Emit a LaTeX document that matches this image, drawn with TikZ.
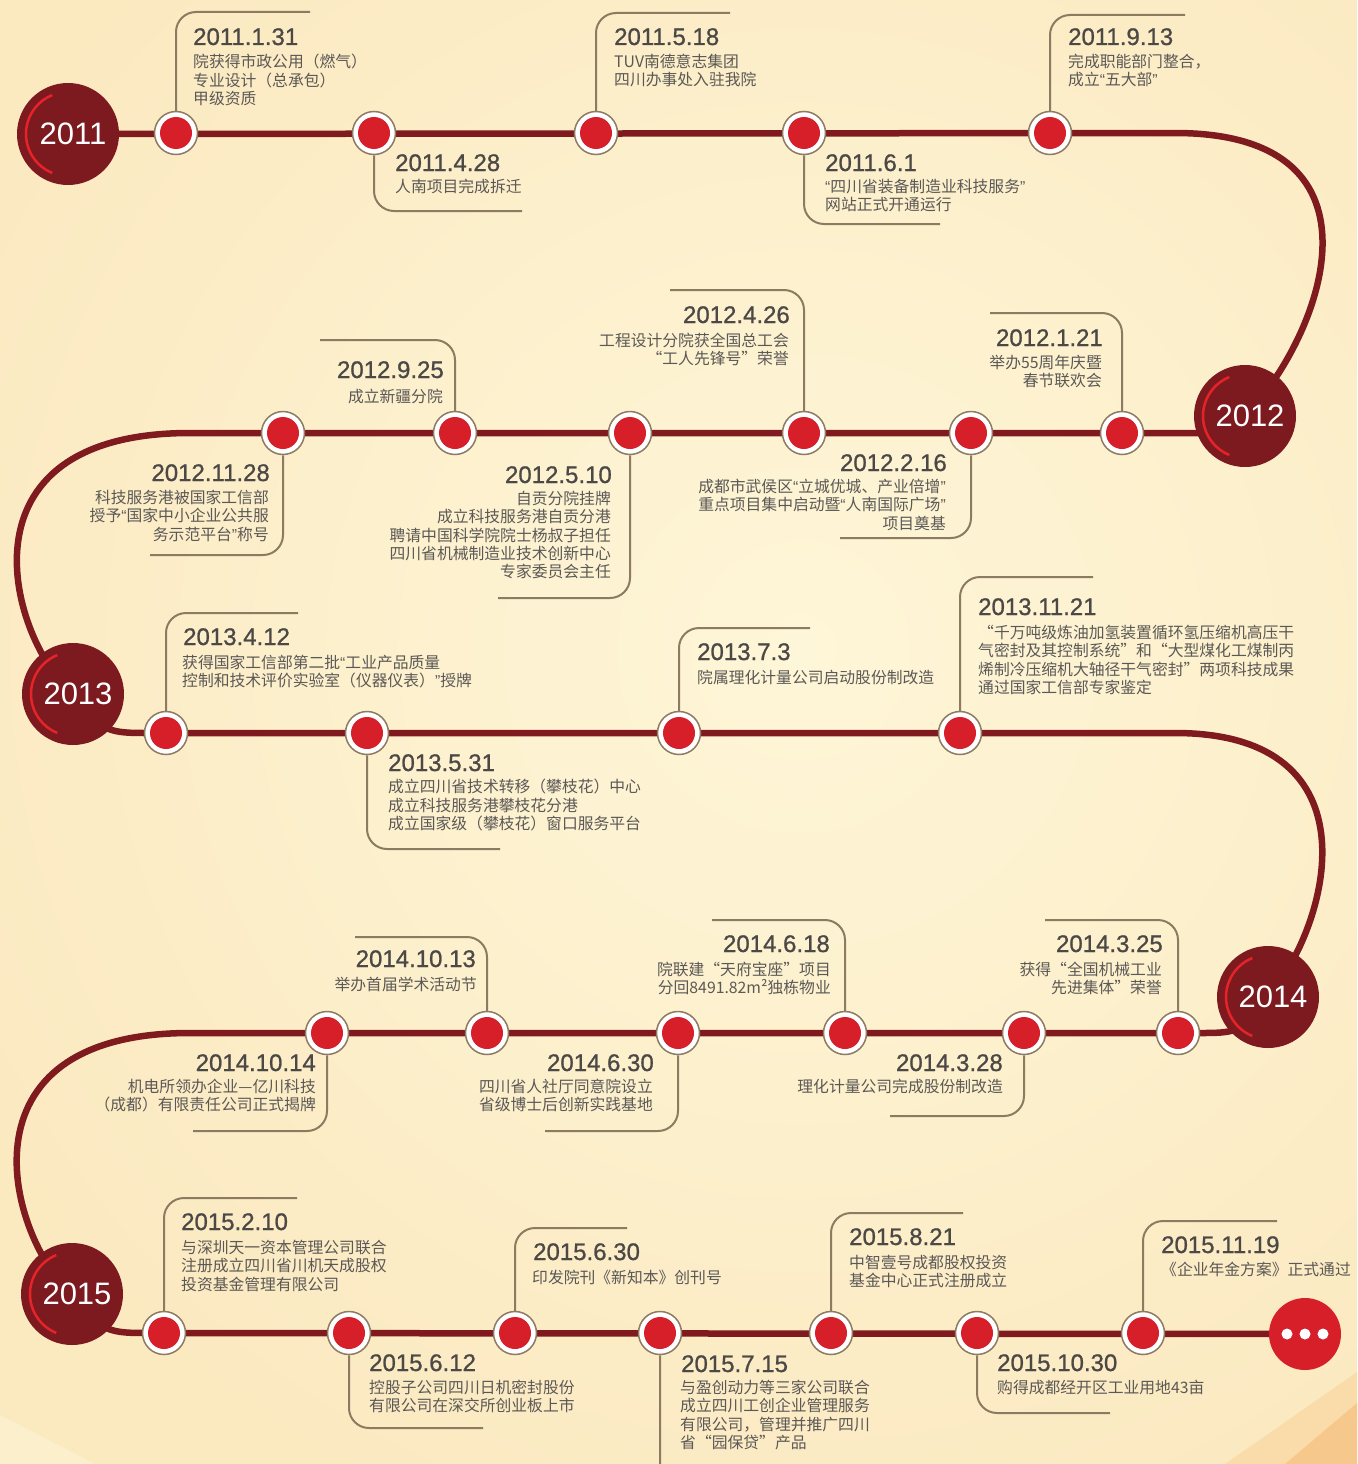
\documentclass[tikz,border=0pt]{standalone}
\usepackage{fontspec}
\setmainfont{Liberation Sans}
\newfontfamily\cjk{Noto Sans CJK SC}
\newfontfamily\datefont[FakeBold=0.9]{Liberation Sans}
\newfontfamily\latinq{Liberation Sans}
\newcommand{\oq}{{\latinq “}}
\newcommand{\cq}{{\latinq ”}}
\definecolor{bgbase}{RGB}{251,233,192}
\definecolor{bglight}{RGB}{254,246,216}
\definecolor{bgorange}{RGB}{247,200,140}
\definecolor{bgorange2}{RGB}{250,220,170}
\definecolor{linered}{RGB}{127,26,30}
\definecolor{yearred}{RGB}{125,26,31}
\definecolor{arcred}{RGB}{229,35,41}
\definecolor{dotred}{RGB}{215,31,42}
\definecolor{dotborder}{RGB}{141,123,99}
\definecolor{callcol}{RGB}{140,123,97}
\definecolor{datecol}{RGB}{75,72,70}
\definecolor{bodycol}{RGB}{91,88,86}
\tikzset{
  mainline/.style={draw=linered, line width=6.5pt},
  yearnode/.style={circle, fill=yearred, minimum size=102pt, inner sep=0pt},
  yeartxt/.style={inner sep=0pt, text=white, font=\fontsize{31}{31}\selectfont},
  dotnode/.style={circle, minimum size=43pt, inner sep=0pt, fill=white, draw=dotborder, line width=1.5pt,
     path picture={\fill[dotred] (path picture bounding box.center) circle (16pt);}},
  callout/.style={draw=callcol, line width=2pt, rounded corners=20pt},
  datetxt/.style={inner sep=0pt, text=datecol, font=\datefont\fontsize{24}{24}\selectfont},
  bodyl/.style={inner sep=0pt, text=bodycol, align=left, font=\cjk\fontsize{15.8}{18.3}\selectfont},
  bodyr/.style={inner sep=0pt, text=bodycol, align=right, font=\cjk\fontsize{15.8}{18.3}\selectfont},
  moredot/.style={circle, fill=dotred, minimum size=72pt, inner sep=0pt},
}
\newcommand{\yeararc}[1]{\draw[arcred, line width=2.5pt] (#1) ++(112:42pt) arc (112:248:42pt);}
\begin{document}
\begin{tikzpicture}[x=1pt, y=-1pt]
\useasboundingbox (0,0) rectangle (1357,1464);
\clip (0,0) rectangle (1357,1464);
% background
\fill[bgbase] (0,0) rectangle (1357,1464);
\shade[inner color=bglight, outer color=bgbase] (800,650) circle (950pt);
\fill[bglight, opacity=0.5] (0,1415) -- (95,1464) -- (0,1464) -- cycle;
\fill[bgorange2] (1225,1464) -- (1357,1372) -- (1357,1464) -- cycle;
\fill[bgorange] (1285,1464) -- (1357,1403) -- (1357,1464) -- cycle;

% year centres
\coordinate (y11) at (68,134);
\coordinate (y12) at (1245,416);
\coordinate (y13) at (73,694);
\coordinate (y14) at (1268,997);
\coordinate (y15) at (72,1294);
\coordinate (more) at (1305,1334);

% main timeline
\draw[mainline] (y11) -- (1175,133) .. controls (1400,133) and (1320,340) .. (y12);
\draw[mainline] (1245,433) -- (190,433) .. controls (-50,433) and (10,640) .. (y13);
\draw[mainline] (y13) .. controls (100,733) and (110,733) .. (150,733) -- (1175,733) .. controls (1380,733) and (1330,925) .. (y14);
\draw[mainline] (1262,1005) .. controls (1245,1033) and (1230,1033) .. (1200,1033) -- (190,1033) .. controls (-50,1033) and (10,1240) .. (y15);
\draw[mainline] (y15) .. controls (100,1333) and (110,1333) .. (150,1333) -- (more);

% year circles
\node[yearnode] (Y11) at (y11) {}; \yeararc{y11} \node[yeartxt] (L11) at ([xshift=5pt]Y11.center) {2011};
\node[yearnode] (Y12) at (y12) {}; \yeararc{y12} \node[yeartxt] (L12) at ([xshift=5pt]Y12.center) {2012};
\node[yearnode] (Y13) at (y13) {}; \yeararc{y13} \node[yeartxt] (L13) at ([xshift=5pt]Y13.center) {2013};
\node[yearnode] (Y14) at (y14) {}; \yeararc{y14} \node[yeartxt] (L14) at ([xshift=5pt]Y14.center) {2014};
\node[yearnode] (Y15) at (y15) {}; \yeararc{y15} \node[yeartxt] (L15) at ([xshift=5pt]Y15.center) {2015};
\node[moredot] (M) at (more) {};
\fill[white] (M.center) circle (5.5pt) ++(-18pt,0) circle (5.5pt) ++(36pt,0) circle (5.5pt);

% ---------------- 2011 ----------------
\node[dotnode] (a1) at (176,133) {};
\node[dotnode] (a2) at (374,133) {};
\node[dotnode] (a3) at (596,133) {};
\node[dotnode] (a4) at (804,133) {};
\node[dotnode] (a5) at (1050,133) {};
\coordinate (ca1) at (310,12);  \draw[callout] (a1.north) |- (ca1);
\coordinate (ca2) at (522,211); \draw[callout] (a2.south) |- (ca2);
\coordinate (ca3) at (730,13);  \draw[callout] (a3.north) |- (ca3);
\coordinate (ca4) at (940,224); \draw[callout] (a4.south) |- (ca4);
\coordinate (ca5) at (1185,15); \draw[callout] (a5.north) |- (ca5);
\node[datetxt, anchor=base west] (da1) at (193,45) {2011.1.31};
\node[bodyl, anchor=north west] (ba1) at (193,54) {院获得市政公用（燃气）\\专业设计（总承包）\\甲级资质};
\node[datetxt, anchor=base west] (da2) at (395,171) {2011.4.28};
\node[bodyl, anchor=north west] (ba2) at (395,179) {人南项目完成拆迁};
\node[datetxt, anchor=base west] (da3) at (614,45) {2011.5.18};
\node[bodyl, anchor=north west] (ba3) at (614,54) {TUV南德意志集团\\四川办事处入驻我院};
\node[datetxt, anchor=base west] (da4) at (825,171) {2011.6.1};
\node[bodyl, anchor=north west] (ba4) at (825,179) {\oq 四川省装备制造业科技服务\cq\\网站正式开通运行};
\node[datetxt, anchor=base west] (da5) at (1068,45) {2011.9.13};
\node[bodyl, anchor=north west] (ba5) at (1068,54) {完成职能部门整合，\\成立\oq 五大部\cq};

% ---------------- 2012 ----------------
\node[dotnode] (b1) at (1122,433) {};
\node[dotnode] (b2) at (971,433) {};
\node[dotnode] (b3) at (804,433) {};
\node[dotnode] (b4) at (630,433) {};
\node[dotnode] (b5) at (455,433) {};
\node[dotnode] (b6) at (283,433) {};
\coordinate (cb1) at (990,313); \draw[callout] (b1.north) |- (cb1);
\coordinate (cb2) at (840,538); \draw[callout] (b2.south) |- (cb2);
\coordinate (cb3) at (670,290); \draw[callout] (b3.north) |- (cb3);
\coordinate (cb4) at (498,598); \draw[callout] (b4.south) |- (cb4);
\coordinate (cb5) at (320,340); \draw[callout] (b5.north) |- (cb5);
\coordinate (cb6) at (150,555); \draw[callout] (b6.south) |- (cb6);
\node[datetxt, anchor=base east] (db1) at (1103,346) {2012.1.21};
\node[bodyr, anchor=north east] (bb1) at (1102,355) {举办55周年庆暨\\春节联欢会};
\node[datetxt, anchor=base east] (db2) at (947,471) {2012.2.16};
\node[bodyr, anchor=north east] (bb2) at (946,479) {成都市武侯区\oq 立城优城、产业倍增\cq\\重点项目集中启动暨\oq 人南国际广场\cq\\项目奠基};
\node[datetxt, anchor=base east] (db3) at (790,323) {2012.4.26};
\node[bodyr, anchor=north east] (bb3) at (789,333) {工程设计分院获全国总工会\\“工人先锋号”荣誉};
\node[datetxt, anchor=base east] (db4) at (612,483) {2012.5.10};
\node[bodyr, anchor=north east] (bb4) at (611,491) {自贡分院挂牌\\成立科技服务港自贡分港\\聘请中国科学院院士杨叔子担任\\四川省机械制造业技术创新中心\\专家委员会主任};
\node[datetxt, anchor=base east] (db5) at (444,378) {2012.9.25};
\node[bodyr, anchor=north east] (bb5) at (443,389) {成立新疆分院};
\node[datetxt, anchor=base east] (db6) at (270,481) {2012.11.28};
\node[bodyr, anchor=north east] (bb6) at (269,490) {科技服务港被国家工信部\\授予\oq 国家中小企业公共服\\务示范平台\cq 称号};

% ---------------- 2013 ----------------
\node[dotnode] (c1) at (166,733) {};
\node[dotnode] (c2) at (367,733) {};
\node[dotnode] (c3) at (679,733) {};
\node[dotnode] (c4) at (960,733) {};
\coordinate (cc1) at (298,613);  \draw[callout] (c1.north) |- (cc1);
\coordinate (cc2) at (500,849);  \draw[callout] (c2.south) |- (cc2);
\coordinate (cc3) at (810,628);  \draw[callout] (c3.north) |- (cc3);
\coordinate (cc4) at (1093,577); \draw[callout] (c4.north) |- (cc4);
\node[datetxt, anchor=base west] (dc1) at (183,645) {2013.4.12};
\node[bodyl, anchor=north west] (bc1) at (182,655) {获得国家工信部第二批\oq 工业产品质量\\控制和技术评价实验室（仪器仪表）\cq 授牌};
\node[datetxt, anchor=base west] (dc2) at (388,771) {2013.5.31};
\node[bodyl, anchor=north west] (bc2) at (388,779) {成立四川省技术转移（攀枝花）中心\\成立科技服务港攀枝花分港\\成立国家级（攀枝花）窗口服务平台};
\node[datetxt, anchor=base west] (dc3) at (697,660) {2013.7.3};
\node[bodyl, anchor=north west] (bc3) at (697,670) {院属理化计量公司启动股份制改造};
\node[datetxt, anchor=base west] (dc4) at (978,615) {2013.11.21};
\node[bodyl, anchor=north west] (bc4) at (978,625) {“千万吨级炼油加氢装置循环氢压缩机高压干\\气密封及其控制系统”和“大型煤化工煤制丙\\烯制冷压缩机大轴径干气密封”两项科技成果\\通过国家工信部专家鉴定};

% ---------------- 2014 ----------------
\node[dotnode] (d1) at (1178,1033) {};
\node[dotnode] (d2) at (1024,1033) {};
\node[dotnode] (d3) at (845,1033) {};
\node[dotnode] (d4) at (678,1033) {};
\node[dotnode] (d5) at (487,1033) {};
\node[dotnode] (d6) at (327,1033) {};
\coordinate (cd1) at (1045,920);  \draw[callout] (d1.north) |- (cd1);
\coordinate (cd2) at (890,1116);  \draw[callout] (d2.south) |- (cd2);
\coordinate (cd3) at (712,920);   \draw[callout] (d3.north) |- (cd3);
\coordinate (cd4) at (545,1131);  \draw[callout] (d4.south) |- (cd4);
\coordinate (cd5) at (355,937);   \draw[callout] (d5.north) |- (cd5);
\coordinate (cd6) at (193,1131);  \draw[callout] (d6.south) |- (cd6);
\node[datetxt, anchor=base east] (dd1) at (1163,952) {2014.3.25};
\node[bodyr, anchor=north east] (bd1) at (1162,962) {获得“全国机械工业\\先进集体”荣誉};
\node[datetxt, anchor=base east] (dd2) at (1003,1071) {2014.3.28};
\node[bodyr, anchor=north east] (bd2) at (1003,1079) {理化计量公司完成股份制改造};
\node[datetxt, anchor=base east] (dd3) at (830,952) {2014.6.18};
\node[bodyr, anchor=north east] (bd3) at (831,962) {院联建“天府宝座”项目\\分回8491.82m²独栋物业};
\node[datetxt, anchor=base east] (dd4) at (654,1071) {2014.6.30};
\node[bodyr, anchor=north east] (bd4) at (653,1079) {四川省人社厅同意院设立\\省级博士后创新实践基地};
\node[datetxt, anchor=base east] (dd5) at (476,967) {2014.10.13};
\node[bodyr, anchor=north east] (bd5) at (477,977) {举办首届学术活动节};
\node[datetxt, anchor=base east] (dd6) at (316,1071) {2014.10.14};
\node[bodyr, anchor=north east] (bd6) at (316,1079) {机电所领办企业—亿川科技\\（成都）有限责任公司正式揭牌};

% ---------------- 2015 ----------------
\node[dotnode] (f1) at (164,1333) {};
\node[dotnode] (f2) at (349,1333) {};
\node[dotnode] (f3) at (515,1333) {};
\node[dotnode] (f4) at (660,1333) {};
\node[dotnode] (f5) at (831,1333) {};
\node[dotnode] (f6) at (977,1333) {};
\node[dotnode] (f7) at (1143,1333) {};
\coordinate (cf1) at (297,1198);  \draw[callout] (f1.north) |- (cf1);
\coordinate (cf2) at (483,1428);  \draw[callout] (f2.south) |- (cf2);
\coordinate (cf3) at (627,1228);  \draw[callout] (f3.north) |- (cf3);
\coordinate (cf4) at (800,1484);  \draw[callout] (f4.south) |- (cf4);
\coordinate (cf5) at (963,1213);  \draw[callout] (f5.north) |- (cf5);
\coordinate (cf6) at (1110,1413); \draw[callout] (f6.south) |- (cf6);
\coordinate (cf7) at (1277,1221); \draw[callout] (f7.north) |- (cf7);
\node[datetxt, anchor=base west] (df1) at (181,1230) {2015.2.10};
\node[bodyl, anchor=north west] (bf1) at (181,1240) {与深圳天一资本管理公司联合\\注册成立四川省川机天成股权\\投资基金管理有限公司};
\node[datetxt, anchor=base west] (df2) at (369,1371) {2015.6.12};
\node[bodyl, anchor=north west] (bf2) at (369,1380) {控股子公司四川日机密封股份\\有限公司在深交所创业板上市};
\node[datetxt, anchor=base west] (df3) at (533,1260) {2015.6.30};
\node[bodyl, anchor=north west] (bf3) at (532,1270) {印发院刊《新知本》创刊号};
\node[datetxt, anchor=base west] (df4) at (681,1372) {2015.7.15};
\node[bodyl, anchor=north west] (bf4) at (680,1380) {与盈创动力等三家公司联合\\成立四川工创企业管理服务\\有限公司，管理并推广四川\\省“园保贷”产品};
\node[datetxt, anchor=base west] (df5) at (849,1245) {2015.8.21};
\node[bodyl, anchor=north west] (bf5) at (849,1255) {中智壹号成都股权投资\\基金中心正式注册成立};
\node[datetxt, anchor=base west] (df6) at (997,1371) {2015.10.30};
\node[bodyl, anchor=north west] (bf6) at (997,1380) {购得成都经开区工业用地43亩};
\node[datetxt, anchor=base west] (df7) at (1161,1253) {2015.11.19};
\node[bodyl, anchor=north west] (bf7) at (1161,1262) {《企业年金方案》正式通过};
\end{tikzpicture}
\end{document}
